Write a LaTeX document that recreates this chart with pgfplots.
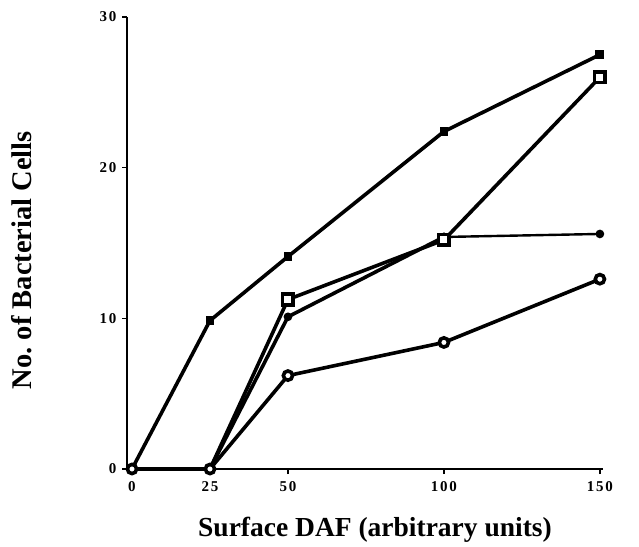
\documentclass[border=0pt]{standalone}
\usepackage{pgfplots}
\pgfplotsset{compat=1.18}
\usepackage{fontspec}
\setmainfont{Liberation Serif}
\newfontfamily\tickfont[LetterSpace=12]{Liberation Serif}

\begin{document}
\begin{tikzpicture}[x=1pt,y=1pt]
\useasboundingbox (0,0) rectangle (639,546);
\begin{axis}[
  at={(127pt,77pt)}, anchor=south west,
  scale only axis, width=476pt, height=452pt,
  xmin=-1.6, xmax=151, ymin=0, ymax=30,
  axis lines=left, axis line style={line width=1.8pt,-},
  xtick={0,25,50,100,150}, ytick={0,10,20,30},
  tick align=outside, major tick length=5pt,
  tick style={line width=1.4pt,black},
  /pgf/number format/assume math mode=true,
  ticklabel style={font=\tickfont\bfseries\fontsize{15}{15}\selectfont},
  xticklabel style={yshift=-4pt},
  yticklabel style={xshift=-2pt},
  xlabel={Surface DAF (arbitrary units)},
  ylabel={No.\ of\ Bacterial\ Cells},
  xlabel style={font=\bfseries\fontsize{27.5}{27.5}\selectfont,
    at={(axis description cs:0.521,-0.150)}, anchor=base},
  ylabel style={font=\bfseries\fontsize{28.5}{28.5}\selectfont,
    at={(axis description cs:-0.221,0.462)}, anchor=center},
  every axis plot/.append style={black, line width=3.6pt, mark options={solid, line width=1.6pt}},
  clip=false,
]
% filled circles: last segment thinner in the original
\addplot[mark=*, mark size=3.5pt, mark indices={3,4}] coordinates {
  (0,0) (25,0) (50,10.1) (100,15.4)
};
\addplot[line width=2.4pt, mark=*, mark size=3.5pt] coordinates {
  (100,15.4) (150,15.6)
};
% open squares
\addplot[mark=square*, mark size=5.3pt, mark options={fill=white, draw=black}, mark indices={3,4,5}] coordinates {
  (0,0) (25,0) (50,11.25) (100,15.2) (150,26.0)
};
% filled squares
\addplot[mark=square*, mark size=3.6pt, mark indices={2,3,4,5}] coordinates {
  (0,0) (25,9.85) (50,14.1) (100,22.4) (150,27.5)
};
% open circles (drawn last, so its marks at 0 and 25 lie on top)
\addplot[mark=*, mark size=4.6pt, mark options={fill=white, draw=black}] coordinates {
  (0,0) (25,0) (50,6.2) (100,8.4) (150,12.6)
};
\end{axis}
\end{tikzpicture}
\end{document}
